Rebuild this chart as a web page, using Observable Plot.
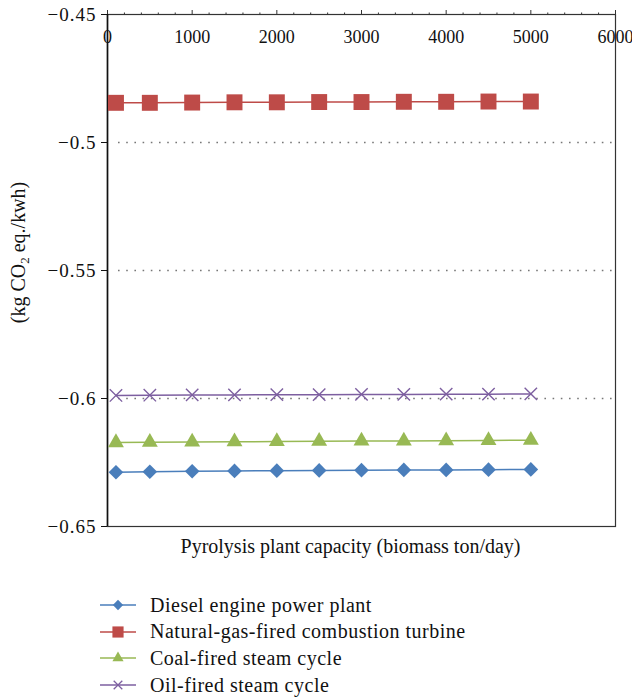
<!DOCTYPE html>
<html>
<head>
<meta charset="utf-8">
<script src="https://cdn.jsdelivr.net/npm/d3@7"></script>
<script src="https://cdn.jsdelivr.net/npm/@observablehq/plot@0.6"></script>
<style>
  html, body { margin: 0; padding: 0; background: #fff; }
  #chart { position: relative; width: 632px; }
  .legend { margin-top: 22px; font-family: "Liberation Serif", serif; font-size: 20px; letter-spacing: 0.5px; color: #111; }
  .legend .row { display: flex; align-items: center; height: 26.6px; }
  .legend svg { margin-left: 100px; margin-right: 14px; }
  g[aria-label="y-axis tick label"] text { letter-spacing: 1px; }
  g[aria-label="xtick-labels"] text { letter-spacing: 0.8px; }
  g[aria-label="x-title"] text { letter-spacing: 0.45px; }
  g[aria-label="y-title"] text { letter-spacing: 0.5px; }
</style>
</head>
<body>
<div id="chart"></div>
<script>
const capacity = [100, 500, 1000, 1500, 2000, 2500, 3000, 3500, 4000, 4500, 5000];
const seriesNames = [
  "Diesel engine power plant",
  "Natural-gas-fired combustion turbine",
  "Coal-fired steam cycle",
  "Oil-fired steam cycle"
];
const diesel = [-0.6288, -0.6286, -0.6284, -0.6283, -0.6282, -0.6281, -0.6280, -0.6279, -0.6279, -0.6278, -0.6277];
const naturalGas = [-0.4845, -0.4845, -0.4844, -0.4843, -0.4843, -0.4842, -0.4842, -0.4841, -0.4841, -0.4840, -0.4840];
const coal = [-0.6172, -0.6171, -0.6170, -0.6169, -0.6168, -0.6167, -0.6166, -0.6166, -0.6165, -0.6164, -0.6163];
const oil = [-0.5988, -0.5987, -0.5986, -0.5986, -0.5985, -0.5985, -0.5984, -0.5984, -0.5983, -0.5983, -0.5982];
const xTicks = [0, 1000, 2000, 3000, 4000, 5000, 6000];
const yTicks = [-0.65, -0.6, -0.55, -0.5, -0.45];
const yGrid = [-0.6, -0.55, -0.5];
const xLabel = "Pyrolysis plant capacity (biomass ton/day)";
const yLabel = "(kg CO2 eq./kwh)";

const colors = ["#4A7EBB", "#BE4B48", "#98B954", "#7D5FA0"];
const symbols = ["diamond2", "square", "triangle2", "times"];
const radii = [6.6, 9.0, 7.6, 5.7];
const values = [diesel, naturalGas, coal, oil];

const rows = [];
seriesNames.forEach((s, i) => capacity.forEach((c, j) => rows.push({series: s, capacity: c, value: values[i][j]})));

const minorTicks = d3.range(0, 6001, 200).filter(v => v % 1000 !== 0);
const fmtY = d => "\u2212" + String(Math.abs(d));
const font = "Liberation Serif";

const seriesMarks = [];
seriesNames.forEach((s, i) => {
  const data = rows.filter(r => r.series === s);
  seriesMarks.push(Plot.line(data, {x: "capacity", y: "value", stroke: colors[i], strokeWidth: 1.5}));
  if (symbols[i] === "times") {
    seriesMarks.push(Plot.dot(data, {x: "capacity", y: "value", symbol: "times", r: radii[i], stroke: colors[i], strokeWidth: 1.4}));
  } else {
    seriesMarks.push(Plot.dot(data, {x: "capacity", y: "value", symbol: symbols[i], r: radii[i], fill: colors[i], stroke: "none"}));
  }
});

const chart = Plot.plot({
  width: 632,
  height: 570,
  marginTop: 14,
  marginBottom: 44,
  marginLeft: 107,
  marginRight: 17,
  style: {fontFamily: font, fontSize: "18px", color: "#111", background: "#fff", overflow: "visible"},
  x: {domain: [0, 6000]},
  y: {domain: [-0.65, -0.45]},
  marks: [
    Plot.ruleY(yGrid, {stroke: "#777", strokeDasharray: "1.6,6.6", strokeWidth: 1.3, insetLeft: 11}),
    Plot.frame({stroke: "#333", strokeWidth: 1.2}),
    Plot.axisX({anchor: "top", ticks: minorTicks, tickSize: 2.5, tickFormat: () => "", label: null, stroke: "#333"}),
    Plot.axisX({anchor: "top", ticks: xTicks, tickSize: 5, tickFormat: () => "", label: null, stroke: "#333"}),
    Plot.text(xTicks, {x: d => d, text: d => String(d), frameAnchor: "top", lineAnchor: "middle", dy: 23, fontSize: 18, fill: "#111", ariaLabel: "xtick-labels"}),
    Plot.axisY({ticks: yTicks, tickSize: 6, tickPadding: 5, tickFormat: fmtY, label: null, fontSize: 19, stroke: "#111"}),
    Plot.ruleX([0], {stroke: "#111", strokeWidth: 1.6}),
    ...seriesMarks,
    Plot.text([xLabel], {frameAnchor: "bottom", lineAnchor: "middle", textAnchor: "middle", dy: 20, dx: -11, fontSize: 20, fill: "#111", ariaLabel: "x-title"}),
    Plot.text([yLabel], {frameAnchor: "left", textAnchor: "middle", lineAnchor: "middle", dx: -89, dy: -18, rotate: -90, fontSize: 20, fill: "#111", ariaLabel: "y-title"})
  ]
});

// subscript the 2 in CO2
chart.querySelectorAll("text").forEach(t => {
  if (t.textContent === yLabel) {
    const parts = yLabel.split("CO2");
    while (t.firstChild) t.removeChild(t.firstChild);
    const ns = "http://www.w3.org/2000/svg";
    const a = document.createElementNS(ns, "tspan"); a.textContent = parts[0] + "CO";
    const b = document.createElementNS(ns, "tspan"); b.textContent = "2"; b.setAttribute("font-size", "13"); b.setAttribute("dy", "4");
    const c = document.createElementNS(ns, "tspan"); c.textContent = " " + parts[1].trim(); c.setAttribute("dy", "-4");
    t.append(a, b, c);
  }
});

document.getElementById("chart").appendChild(chart);

// legend
const legend = document.createElement("div");
legend.className = "legend";
seriesNames.forEach((s, i) => {
  const row = document.createElement("div");
  row.className = "row";
  const sw = d3.create("svg").attr("width", 36).attr("height", 20);
  sw.append("line").attr("x1", 0).attr("x2", 36).attr("y1", 10).attr("y2", 10).attr("stroke", colors[i]).attr("stroke-width", 1.5);
  const symMap = {diamond2: d3.symbolDiamond2, square: d3.symbolSquare, triangle2: d3.symbolTriangle2, times: d3.symbolTimes};
  const size = Math.PI * Math.pow(radii[i] * 0.7, 2);
  const p = sw.append("path").attr("transform", "translate(18,10)").attr("d", d3.symbol(symMap[symbols[i]], size)());
  if (symbols[i] === "times") p.attr("fill", "none").attr("stroke", colors[i]).attr("stroke-width", 1.3);
  else p.attr("fill", colors[i]);
  row.appendChild(sw.node());
  const span = document.createElement("span");
  span.textContent = s;
  row.appendChild(span);
  legend.appendChild(row);
});
document.getElementById("chart").appendChild(legend);
</script>
</body>
</html>
